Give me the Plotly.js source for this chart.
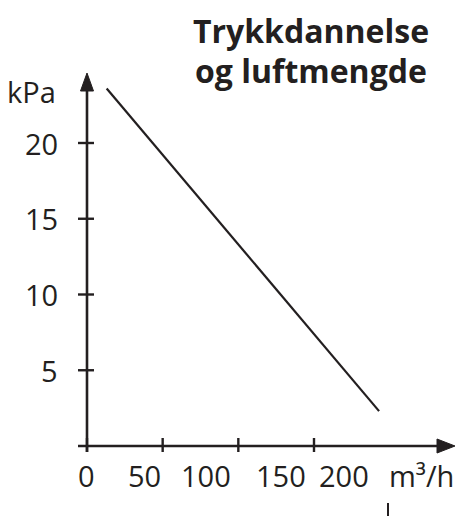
<!DOCTYPE html>
<html><head><meta charset="utf-8">
<script src="https://cdn.plot.ly/plotly-3.0.1.min.js"></script>
<style>html,body{margin:0;padding:0;background:#fff}</style>
</head><body><div id="chart" style="width:456px;height:516px"></div>
<script>
// Data
const flow = [13, 193];          // m3/h
const pressure = [23.6, 2.3];    // kPa
const yTickValues = [5, 10, 15, 20];
const yTickLabels = ['5', '10', '15', '20'];
const xTickValues = [0, 50, 100, 150];
const xTickLabels = ['0', '50', '100', '150', '200'];
const xUnit = 'm³/h';
const yUnit = 'kPa';
const titleLines = ['Trykkdannelse', 'og luftmengde'];

// Layout helpers (pixel -> data) for decorations
const W = 456, H = 516;
const X0 = 87, XS = 1.5133;   // px of x=0, px per unit
const Y0 = 446, YS = 15.15;
const xr = [(0 - X0) / XS, (W - X0) / XS];
const yr = [(Y0 - H) / YS, (Y0 - 0) / YS];
const dx = p => (p - X0) / XS;
const dy = p => (Y0 - p) / YS;
const C = '#231f20';
const FONT = 'Open Sans, Noto Sans, sans-serif';
const FS = 29;

const shapes = [];
const annotations = [];
// axes
shapes.push({type:'line', xref:'x', yref:'y', x0:dx(78), x1:dx(440), y0:0, y1:0, line:{color:C, width:2.6}});
shapes.push({type:'line', xref:'x', yref:'y', x0:0, x1:0, y0:dy(452), y1:dy(86), line:{color:C, width:2.6}});
// arrowheads
shapes.push({type:'path', xref:'x', yref:'y', fillcolor:C, line:{color:C, width:1},
  path:`M ${dx(455)},0 L ${dx(437)},${dy(439)} L ${dx(437)},${dy(453)} Z`});
shapes.push({type:'path', xref:'x', yref:'y', fillcolor:C, line:{color:C, width:1},
  path:`M 0,${dy(73)} L ${dx(80.5)},${dy(91)} L ${dx(93.5)},${dy(91)} Z`});
// tick marks
xTickValues.forEach(v => shapes.push({type:'line', xref:'x', yref:'y', x0:v, x1:v, y0:dy(438), y1:dy(452), line:{color:C, width:2.4}}));
yTickValues.forEach(v => shapes.push({type:'line', xref:'x', yref:'y', x0:dx(78), x1:dx(94), y0:v, y1:v, line:{color:C, width:2.4}}));
// stray mark at bottom
shapes.push({type:'line', xref:'x', yref:'y', x0:dx(388), x1:dx(388), y0:dy(503), y1:dy(520), line:{color:C, width:2}});

// x tick labels
const xLabelPx = [86, 144, 206, 281, 344];
xTickLabels.forEach((t, i) => annotations.push({x:dx(xLabelPx[i]), y:dy(475), xref:'x', yref:'y', text:t, showarrow:false,
  xanchor:'center', yanchor:'middle', font:{family:FONT, size:FS, color:C}}));
annotations.push({x:dx(421), y:dy(475), xref:'x', yref:'y', text:xUnit, showarrow:false,
  xanchor:'center', yanchor:'middle', font:{family:FONT, size:FS, color:C}});
// y tick labels
yTickValues.forEach((v, i) => annotations.push({x:dx(60), y:v, xref:'x', yref:'y', text:yTickLabels[i], showarrow:false,
  xanchor:'right', yanchor:'middle', font:{family:FONT, size:FS, color:C}}));
annotations.push({x:dx(31), y:dy(91), xref:'x', yref:'y', text:yUnit, showarrow:false,
  xanchor:'center', yanchor:'middle', font:{family:FONT, size:FS, color:C}});
// title
annotations.push({x:dx(311), y:dy(30), xref:'x', yref:'y', text:'<b>'+titleLines[0]+'</b>', showarrow:false,
  xanchor:'center', yanchor:'middle', font:{family:FONT, size:32, color:C}});
annotations.push({x:dx(311), y:dy(70), xref:'x', yref:'y', text:'<b>'+titleLines[1]+'</b>', showarrow:false,
  xanchor:'center', yanchor:'middle', font:{family:FONT, size:32, color:C}});

const trace = {x: flow, y: pressure, type:'scatter', mode:'lines', line:{color:C, width:2.2}, hoverinfo:'skip'};

Plotly.newPlot('chart', [trace], {
  width: W, height: H, autosize:false,
  margin:{l:0, r:0, t:0, b:0, pad:0},
  paper_bgcolor:'#fff', plot_bgcolor:'#fff',
  showlegend:false,
  xaxis:{range:xr, visible:false, fixedrange:true},
  yaxis:{range:yr, visible:false, fixedrange:true},
  shapes: shapes, annotations: annotations
}, {staticPlot:true, displayModeBar:false});
</script></body></html>
